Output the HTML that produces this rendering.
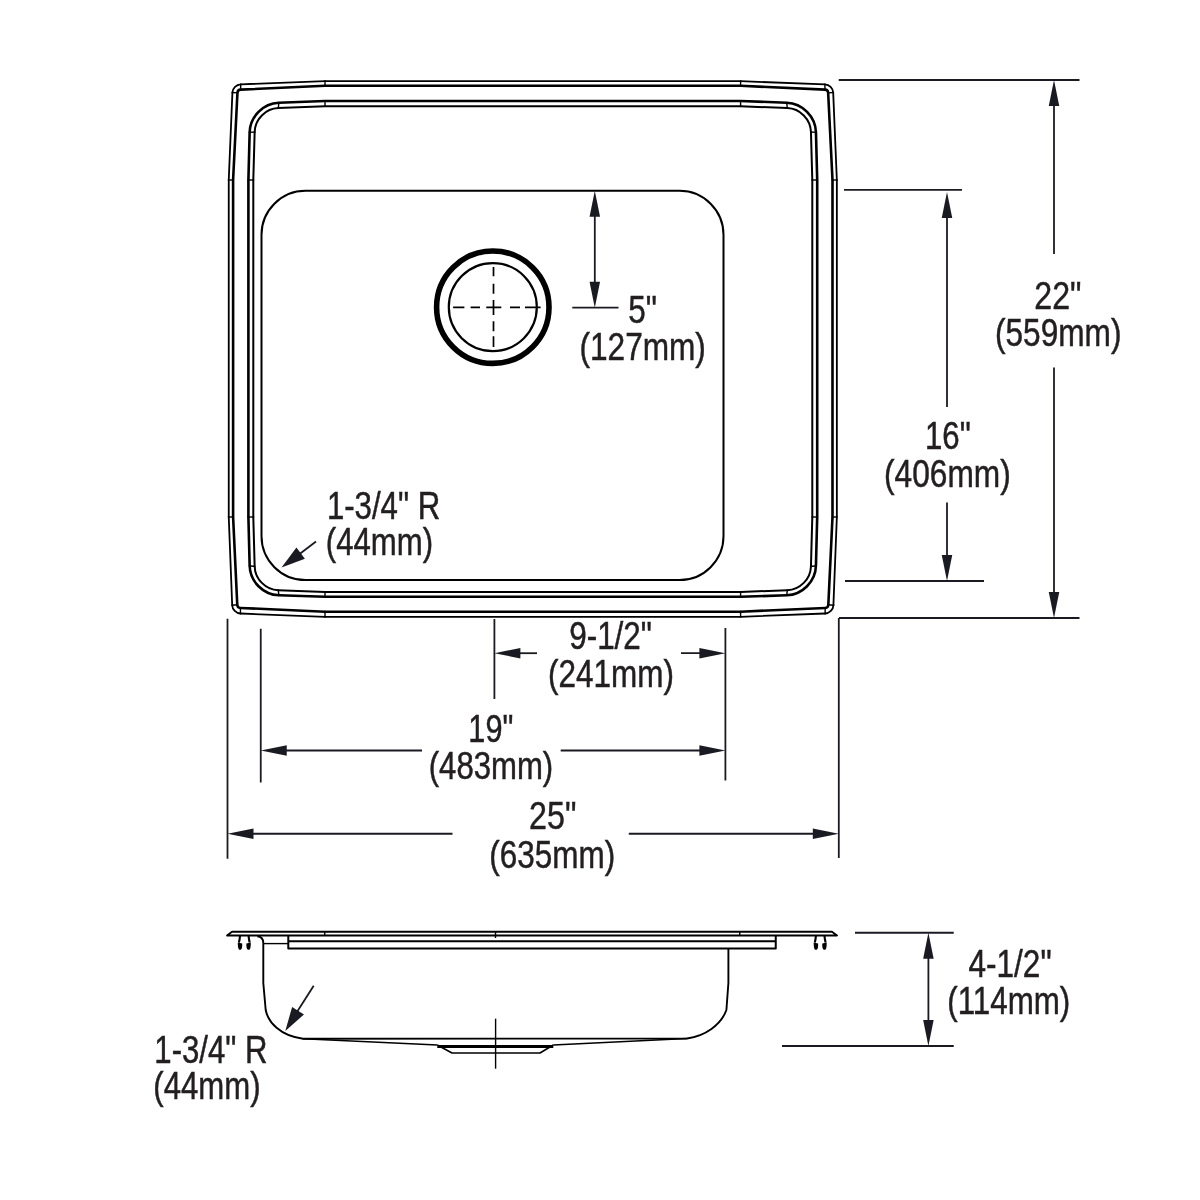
<!DOCTYPE html><html><head><meta charset="utf-8"><title>Sink dimensions</title><style>html,body{margin:0;padding:0;background:#fff;width:1200px;height:1200px;overflow:hidden}svg{display:block;will-change:transform}text{font-family:"Liberation Sans",sans-serif;font-size:38px;fill:#231f20;stroke:#231f20;stroke-width:0.5px}</style></head><body>
<svg width="1200" height="1200" viewBox="0 0 1200 1200">
<rect width="1200" height="1200" fill="#fff"/>
<g fill="none" stroke="#000" stroke-linejoin="round">
<path d="M325.00,81.20 L740.60,81.20 L824.86,84.31 C829.27,84.47 833.00,88.18 833.19,92.59 L836.85,180.00 L836.85,517.00 L833.41,605.21 C833.24,609.62 829.52,613.34 825.11,613.51 L740.60,616.80 L325.00,616.80 L240.49,613.51 C236.08,613.34 232.36,609.62 232.19,605.21 L228.75,517.00 L228.75,180.00 L232.41,92.59 C232.60,88.18 236.33,84.47 240.74,84.31 Z" stroke-width="1.8"/>
<path d="M325.00,85.80 L740.60,85.80 L825.00,89.66 C826.66,89.74 828.07,91.14 828.15,92.80 L832.50,180.00 L832.50,517.00 L828.34,604.80 C828.26,606.46 826.86,607.86 825.20,607.93 L740.60,611.70 L325.00,611.70 L240.40,607.93 C238.74,607.86 237.34,606.46 237.26,604.80 L233.10,517.00 L233.10,180.00 L237.45,92.80 C237.53,91.14 238.94,89.74 240.60,89.66 Z" stroke-width="2.6"/>
<path d="M325.00,101.00 L740.60,101.00 L786.72,102.73 C802.45,103.32 815.53,116.56 815.95,132.29 L817.20,180.00 L817.20,517.00 L815.94,565.81 C815.53,581.54 802.45,594.73 786.72,595.25 L740.60,596.80 L325.00,596.80 L278.88,595.25 C263.15,594.73 250.07,581.54 249.66,565.81 L248.40,517.00 L248.40,180.00 L249.65,132.29 C250.07,116.56 263.15,103.32 278.88,102.73 Z" stroke-width="2.6"/>
<path d="M325.00,106.20 L740.60,106.20 L787.32,108.08 C800.01,108.59 810.59,119.29 810.95,131.99 L812.30,180.00 L812.30,517.00 L810.94,566.41 C810.58,579.11 800.01,589.77 787.31,590.22 L740.60,591.90 L325.00,591.90 L278.29,590.22 C265.59,589.77 255.02,579.11 254.66,566.41 L253.30,517.00 L253.30,180.00 L254.65,131.99 C255.01,119.29 265.59,108.59 278.28,108.08 Z" stroke-width="2.0"/>
<rect x="261.5" y="190.8" width="462" height="389.3" rx="44" ry="44" stroke-width="2.0"/>
<circle cx="492.8" cy="307.2" r="56.2" stroke-width="5.6"/>
<circle cx="492.8" cy="307.1" r="44" stroke-width="2.2"/>
<path d="M453.1,307.3 H464.4 M470.6,307.3 H480 M486.3,307.3 H501.3 M510,307.3 H520 M525,307.3 H540.6 M493.5,266.9 V276.3 M493.5,283.8 V293.8 M493.5,300 V315 M493.5,321.3 V331.3 M493.5,336.3 V346.9 " stroke-width="1.7"/>
</g>
<g stroke="#000" stroke-width="1.4"><line x1="824.83" y1="83.41" x2="825.03" y2="90.56"/><line x1="834.08" y1="92.56" x2="827.25" y2="92.83"/><line x1="834.31" y1="605.28" x2="827.44" y2="604.73"/><line x1="825.09" y1="614.41" x2="825.22" y2="607.03"/><line x1="240.51" y1="614.41" x2="240.38" y2="607.03"/><line x1="231.29" y1="605.28" x2="238.16" y2="604.73"/><line x1="231.52" y1="92.56" x2="238.35" y2="92.83"/><line x1="240.77" y1="83.41" x2="240.57" y2="90.56"/><line x1="325.00" y1="80.30" x2="325.00" y2="86.70"/><line x1="740.60" y1="80.30" x2="740.60" y2="86.70"/><line x1="325.00" y1="617.70" x2="325.00" y2="610.80"/><line x1="740.60" y1="617.70" x2="740.60" y2="610.80"/><line x1="227.85" y1="180.00" x2="234.00" y2="180.00"/><line x1="227.85" y1="517.00" x2="234.00" y2="517.00"/><line x1="837.75" y1="180.00" x2="831.60" y2="180.00"/><line x1="837.75" y1="517.00" x2="831.60" y2="517.00"/><line x1="786.62" y1="101.84" x2="787.42" y2="108.97"/><line x1="816.85" y1="132.34" x2="810.05" y2="131.94"/><line x1="816.83" y1="565.70" x2="810.04" y2="566.52"/><line x1="786.61" y1="596.15" x2="787.42" y2="589.33"/><line x1="278.99" y1="596.15" x2="278.18" y2="589.33"/><line x1="248.77" y1="565.70" x2="255.56" y2="566.52"/><line x1="248.75" y1="132.34" x2="255.55" y2="131.94"/><line x1="278.98" y1="101.84" x2="278.18" y2="108.97"/><line x1="325.00" y1="100.10" x2="325.00" y2="107.10"/><line x1="740.60" y1="100.10" x2="740.60" y2="107.10"/><line x1="325.00" y1="597.70" x2="325.00" y2="591.00"/><line x1="740.60" y1="597.70" x2="740.60" y2="591.00"/><line x1="247.50" y1="180.00" x2="254.20" y2="180.00"/><line x1="247.50" y1="517.00" x2="254.20" y2="517.00"/><line x1="818.10" y1="180.00" x2="811.40" y2="180.00"/><line x1="818.10" y1="517.00" x2="811.40" y2="517.00"/></g>
<g stroke="#1a1a22" stroke-width="1.8" fill="none">
<line x1="838.75" y1="80.00" x2="1079.50" y2="80.00"/><line x1="839.00" y1="618.00" x2="1079.50" y2="618.00"/><line x1="1054.00" y1="92.00" x2="1054.00" y2="254.00"/><line x1="1054.00" y1="367.50" x2="1054.00" y2="606.00"/><line x1="844.00" y1="189.80" x2="962.00" y2="189.80"/><line x1="845.00" y1="581.00" x2="984.00" y2="581.00"/><line x1="947.00" y1="200.00" x2="947.00" y2="407.00"/><line x1="947.00" y1="502.50" x2="947.00" y2="570.00"/><line x1="594.80" y1="200.00" x2="594.80" y2="297.00"/><line x1="572.30" y1="307.70" x2="618.50" y2="307.70"/><line x1="227.50" y1="618.75" x2="227.50" y2="858.75"/><line x1="838.80" y1="618.00" x2="838.80" y2="858.00"/><line x1="238.00" y1="833.75" x2="452.50" y2="833.75"/><line x1="628.80" y1="833.75" x2="828.00" y2="833.75"/><line x1="260.75" y1="628.75" x2="260.75" y2="782.50"/><line x1="725.40" y1="628.00" x2="725.40" y2="780.50"/><line x1="271.00" y1="750.50" x2="422.00" y2="750.50"/><line x1="560.70" y1="750.50" x2="715.00" y2="750.50"/><line x1="494.40" y1="619.00" x2="494.40" y2="699.00"/><line x1="505.00" y1="653.20" x2="537.00" y2="653.20"/><line x1="681.00" y1="653.20" x2="715.00" y2="653.20"/><line x1="855.00" y1="932.75" x2="953.75" y2="932.75"/><line x1="782.00" y1="1046.00" x2="953.75" y2="1046.00"/><line x1="928.40" y1="945.00" x2="928.40" y2="1034.00"/><line x1="316.00" y1="541.50" x2="295.00" y2="557.50"/><line x1="313.70" y1="985.70" x2="296.00" y2="1013.50"/>
</g>
<g fill="#1a1a22" stroke="none">
<path d="M1054.00,80.00 L1048.75,106.00 L1059.25,106.00 Z"/><path d="M1054.00,618.00 L1059.25,592.00 L1048.75,592.00 Z"/><path d="M947.00,192.10 L941.75,218.10 L952.25,218.10 Z"/><path d="M947.00,581.00 L952.25,555.00 L941.75,555.00 Z"/><path d="M594.80,190.80 L589.55,216.80 L600.05,216.80 Z"/><path d="M594.80,307.70 L600.05,281.70 L589.55,281.70 Z"/><path d="M227.50,833.75 L253.50,839.00 L253.50,828.50 Z"/><path d="M838.80,833.75 L812.80,828.50 L812.80,839.00 Z"/><path d="M260.75,750.50 L286.75,755.75 L286.75,745.25 Z"/><path d="M725.40,750.50 L699.40,745.25 L699.40,755.75 Z"/><path d="M494.40,653.20 L520.40,658.45 L520.40,647.95 Z"/><path d="M725.40,653.20 L699.40,647.95 L699.40,658.45 Z"/><path d="M928.40,932.75 L923.15,958.75 L933.65,958.75 Z"/><path d="M928.40,1046.00 L933.65,1020.00 L923.15,1020.00 Z"/><path d="M281.50,567.50 L304.88,558.65 L296.45,547.47 Z"/><path d="M285.30,1031.00 L303.98,1014.38 L292.12,1006.95 Z"/>
</g>
<g fill="none" stroke="#000" stroke-linejoin="round">
<path d="M232,931.75 H832 L837,935.5 H227 Z" stroke-width="1.8"/>
<path d="M288.3,936 V948.5 H775.75 V936 M288.3,941.25 H775.75" stroke-width="2"/>
<path d="M263.3,943.6 H288.3" stroke-width="1.4"/>
<path d="M257.3,936.2 C261,936.5 263.3,939 263.3,943 L263.3,983 L265.7,1010 C268,1022 280,1036 303,1038.7 L687,1038.5 C705,1036 721,1025 726.4,1010 L728.4,983 L728.4,948.5" stroke-width="1.9"/>
<path d="M303,1038.7 L437.3,1045 M553.3,1045 L687,1038.5" stroke-width="1.5"/>
<path d="M437.3,1045 L452,1053 H540 L553.3,1045" stroke-width="1.6"/>
<path d="M437.3,1046.5 H553.3" stroke-width="3.2"/>
<path d="M495.6,1018.7 V1068.7" stroke-width="1.4"/>
<path d="M324.75,931 V936 M739.75,931 V936 M495.5,931 V938" stroke-width="1.4"/>
</g>
<path d="M240.00,935.8 Q239.70,939.5 238.90,942.6" stroke="#000" stroke-width="2.1" fill="none"/><path d="M237.80,942.4 L242.20,943.5 C242.40,947 241.90,949.8 240.10,949.8 C238.20,949.8 237.80,947 237.80,942.4 Z" fill="#000"/><path d="M248.60,935.8 Q248.90,939.5 249.70,942.6" stroke="#000" stroke-width="2.1" fill="none"/><path d="M250.80,942.4 L246.40,943.5 C246.20,947 246.70,949.8 248.50,949.8 C250.40,949.8 250.80,947 250.80,942.4 Z" fill="#000"/><path d="M815.90,935.8 Q815.60,939.5 814.80,942.6" stroke="#000" stroke-width="2.1" fill="none"/><path d="M813.70,942.4 L818.10,943.5 C818.30,947 817.80,949.8 816.00,949.8 C814.10,949.8 813.70,947 813.70,942.4 Z" fill="#000"/><path d="M824.50,935.8 Q824.80,939.5 825.60,942.6" stroke="#000" stroke-width="2.1" fill="none"/><path d="M826.70,942.4 L822.30,943.5 C822.10,947 822.60,949.8 824.40,949.8 C826.30,949.8 826.70,947 826.70,942.4 Z" fill="#000"/>
<g>
<text transform="scale(0.8462,1)" x="1222.34" y="309.00">22&quot;</text>
<text transform="scale(0.8316,1)" x="1196.53" y="346.50">(559mm)</text>
<text transform="scale(0.8215,1)" x="1126.02" y="448.80">16&quot;</text>
<text transform="scale(0.8330,1)" x="1061.32" y="487.00">(406mm)</text>
<text transform="scale(0.8289,1)" x="758.03" y="323.40">5&quot;</text>
<text transform="scale(0.8323,1)" x="696.20" y="360.40">(127mm)</text>
<text transform="scale(0.8206,1)" x="398.36" y="518.70">1-3/4&quot; R</text>
<text transform="scale(0.8203,1)" x="397.19" y="555.00">(44mm)</text>
<text transform="scale(0.8272,1)" x="688.10" y="649.20">9-1/2&quot;</text>
<text transform="scale(0.8282,1)" x="661.73" y="687.00">(241mm)</text>
<text transform="scale(0.8059,1)" x="581.18" y="741.90">19&quot;</text>
<text transform="scale(0.8187,1)" x="523.72" y="778.70">(483mm)</text>
<text transform="scale(0.8481,1)" x="623.81" y="829.30">25&quot;</text>
<text transform="scale(0.8282,1)" x="590.85" y="867.90">(635mm)</text>
<text transform="scale(0.8308,1)" x="1165.71" y="977.20">4-1/2&quot;</text>
<text transform="scale(0.8241,1)" x="1149.52" y="1014.10">(114mm)</text>
<text transform="scale(0.8191,1)" x="188.42" y="1062.70">1-3/4&quot; R</text>
<text transform="scale(0.8195,1)" x="187.15" y="1098.70">(44mm)</text>
</g>
</svg></body></html>
